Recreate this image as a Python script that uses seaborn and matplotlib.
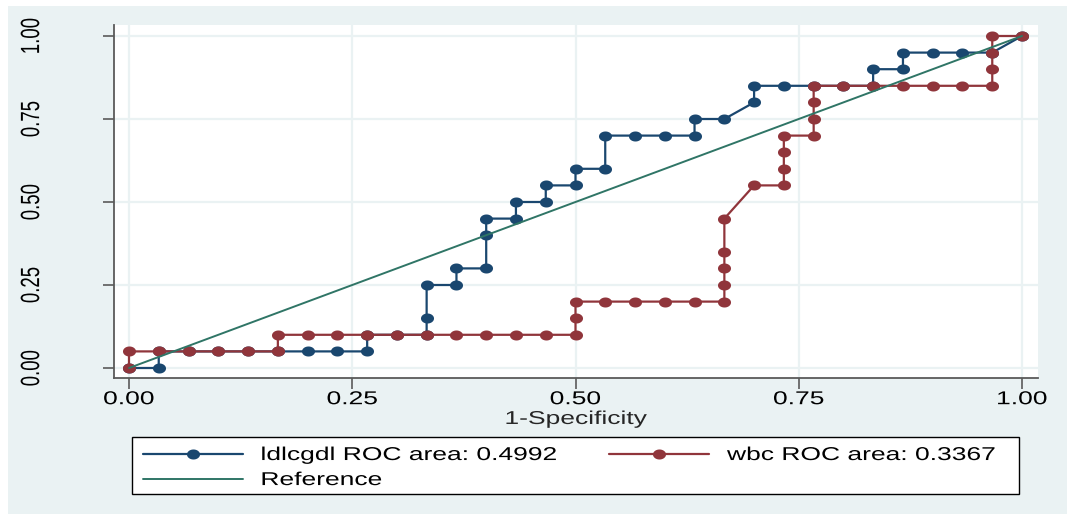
import numpy as np
import pandas as pd
import seaborn as sns
import matplotlib
matplotlib.use("Agg")
import matplotlib.pyplot as plt
from matplotlib.path import Path
from matplotlib.patches import Rectangle
from matplotlib.lines import Line2D
from matplotlib.transforms import Affine2D
from matplotlib.patheffects import AbstractPathEffect

# ROC coordinates (1-specificity, sensitivity) for each marker
ldl_fpr = [0, 0.0333, 0.0333, 0.0667, 0.1, 0.1333, 0.1667, 0.2, 0.2333, 0.2667,
           0.2667, 0.3, 0.3333, 0.3333, 0.3333, 0.3667, 0.3667, 0.4, 0.4, 0.4,
           0.4333, 0.4333, 0.4667, 0.4667, 0.5, 0.5, 0.5333, 0.5333, 0.5667, 0.6,
           0.6333, 0.6333, 0.6667, 0.7, 0.7, 0.7333, 0.7667, 0.8, 0.8333, 0.8333,
           0.8667, 0.8667, 0.9, 0.9333, 0.9667, 1.0]
ldl_sens = [0, 0, 0.05, 0.05, 0.05, 0.05, 0.05, 0.05, 0.05, 0.05,
            0.10, 0.10, 0.10, 0.15, 0.25, 0.25, 0.30, 0.30, 0.40, 0.45,
            0.45, 0.50, 0.50, 0.55, 0.55, 0.60, 0.60, 0.70, 0.70, 0.70,
            0.70, 0.75, 0.75, 0.80, 0.85, 0.85, 0.85, 0.85, 0.85, 0.90,
            0.90, 0.95, 0.95, 0.95, 0.95, 1.0]

wbc_fpr = [0, 0, 0.0333, 0.0667, 0.1, 0.1333, 0.1667, 0.1667, 0.2, 0.2333,
           0.2667, 0.3, 0.3333, 0.3667, 0.4, 0.4333, 0.4667, 0.5, 0.5, 0.5,
           0.5333, 0.5667, 0.6, 0.6333, 0.6667, 0.6667, 0.6667, 0.6667, 0.6667, 0.7,
           0.7333, 0.7333, 0.7333, 0.7333, 0.7667, 0.7667, 0.7667, 0.7667, 0.8, 0.8333,
           0.8667, 0.9, 0.9333, 0.9667, 0.9667, 0.9667, 0.9667, 1.0]
wbc_sens = [0, 0.05, 0.05, 0.05, 0.05, 0.05, 0.05, 0.10, 0.10, 0.10,
            0.10, 0.10, 0.10, 0.10, 0.10, 0.10, 0.10, 0.10, 0.15, 0.20,
            0.20, 0.20, 0.20, 0.20, 0.20, 0.25, 0.30, 0.35, 0.45, 0.55,
            0.55, 0.60, 0.65, 0.70, 0.70, 0.75, 0.80, 0.85, 0.85, 0.85,
            0.85, 0.85, 0.85, 0.85, 0.90, 0.95, 1.0, 1.0]

ref_x = [0, 1]
ref_y = [0, 1]

labels = ["ldlcgdl ROC area: 0.4992", "wbc ROC area: 0.3367", "Reference"]
ticks = [0.0, 0.25, 0.5, 0.75, 1.0]
tick_labels = ["0.00", "0.25", "0.50", "0.75", "1.00"]

NAVY = "#1a476f"
MAROON = "#90353b"
TEAL = "#2f7566"
BG = "#eaf2f3"
AXC = "#5a5a5a"
FS = 13.4       # font size, pt
SX = 1.42       # horizontal glyph widening


class HStretch(AbstractPathEffect):
    """Widen glyphs horizontally about the left edge or centre of the string."""

    def __init__(self, sx, anchor="center"):
        super().__init__()
        self.sx = sx
        self.anchor = anchor

    def draw_path(self, renderer, gc, tpath, affine, rgbFace=None):
        ext = tpath.transformed(affine).get_extents()
        cx = ext.x0 if self.anchor == "left" else 0.5 * (ext.x0 + ext.x1)
        aff = affine + Affine2D().translate(-cx, 0).scale(self.sx, 1).translate(cx, 0)
        renderer.draw_path(gc, tpath, aff, rgbFace)


sns.set_theme(style="white")
plt.rcParams["font.family"] = ["Liberation Sans", "DejaVu Sans"]

W, H = 1067, 514
fig = plt.figure(figsize=(W / 100, H / 100), dpi=100, facecolor="white")
fig.patches.append(Rectangle((8 / W, 0), 1, 1 - 6 / H, transform=fig.transFigure,
                             facecolor=BG, edgecolor="none", zorder=-1))
ax = fig.add_axes([114 / W, 1 - 378 / H, (1038 - 114) / W, (378 - 25) / H])
ax.set_facecolor("white")

# slightly wide elliptical marker
t = np.linspace(0, 2 * np.pi, 40)
ell = Path(np.column_stack([1.3 * np.cos(t), np.sin(t)]))
MS = 9.4
LW = 1.6

df_ldl = pd.DataFrame({"fpr": ldl_fpr, "sens": ldl_sens})
df_wbc = pd.DataFrame({"fpr": wbc_fpr, "sens": wbc_sens})

sns.lineplot(data=df_ldl, x="fpr", y="sens", sort=False, estimator=None, ax=ax,
             color=NAVY, lw=LW, marker=ell, markersize=MS, markeredgewidth=0,
             zorder=3)
sns.lineplot(data=df_wbc, x="fpr", y="sens", sort=False, estimator=None, ax=ax,
             color=MAROON, lw=LW, marker=ell, markersize=MS, markeredgewidth=0,
             zorder=4)
sns.lineplot(x=ref_x, y=ref_y, ax=ax, color=TEAL, lw=1.4, zorder=5)

ax.set_xlim(-15 / 893, 1 + 16 / 893)
ax.set_ylim(-10 / 332, 1 + 11 / 332)
ax.set_xticks(ticks)
ax.set_xticklabels(tick_labels)
ax.set_yticks(ticks)
ax.set_yticklabels(tick_labels, rotation=90, va="center")
ax.grid(True, color=BG, lw=1.6)
ax.set_axisbelow(True)

for s in ["top", "right"]:
    ax.spines[s].set_visible(False)
for s in ["left", "bottom"]:
    ax.spines[s].set_color(AXC)
    ax.spines[s].set_linewidth(1.3)

ax.tick_params(axis="both", which="major", direction="out", length=8, width=1.2,
               color=AXC, labelsize=FS, labelcolor="black", left=True, bottom=True)
ax.tick_params(axis="x", pad=1.5)
ax.tick_params(axis="y", pad=45)
ax.set_xlabel("1-Specificity", fontsize=FS, labelpad=2)
ax.set_ylabel("")

for lab in ax.get_xticklabels() + ax.get_yticklabels() + [ax.xaxis.label]:
    lab.set_path_effects([HStretch(SX, "center")])

# legend: two columns, filled row by row
handles = [
    Line2D([], [], color=NAVY, lw=LW, marker=ell, markersize=MS, markeredgewidth=0),
    Line2D([], [], color=TEAL, lw=1.4),
    Line2D([], [], color=MAROON, lw=LW, marker=ell, markersize=MS, markeredgewidth=0),
]
leg_labels = [labels[0], labels[2], labels[1]]

fs_px = FS * 100 / 72
renderer = fig.canvas.get_renderer()
probe = fig.text(0, 0, labels[0], fontsize=FS)
text_w = probe.get_window_extent(renderer).width
probe.remove()

hl_px, htp_px = 100, 18
col1_start, col2_start = 143, 609
colsp = (col2_start - col1_start - hl_px - htp_px - text_w) / fs_px

box_l, box_r, box_t, box_b = 132, 1019, 437, 494
fig.patches.append(Rectangle((box_l / W, 1 - box_b / H), (box_r - box_l) / W,
                             (box_b - box_t) / H, transform=fig.transFigure,
                             facecolor="white", edgecolor="black", lw=1.0, zorder=4))

leg = fig.legend(handles, leg_labels, ncol=2, loc="upper left",
                 bbox_to_anchor=(col1_start / W, 1 - (box_t + 10) / H),
                 bbox_transform=fig.transFigure, fontsize=FS, frameon=False,
                 handlelength=hl_px / fs_px, handletextpad=htp_px / fs_px,
                 labelspacing=0.43, borderpad=0, borderaxespad=0,
                 columnspacing=colsp)
for txt in leg.get_texts():
    txt.set_path_effects([HStretch(SX, "left")])
    txt.set_color("black")

fig.savefig("out.png", dpi=100, facecolor=fig.get_facecolor())
